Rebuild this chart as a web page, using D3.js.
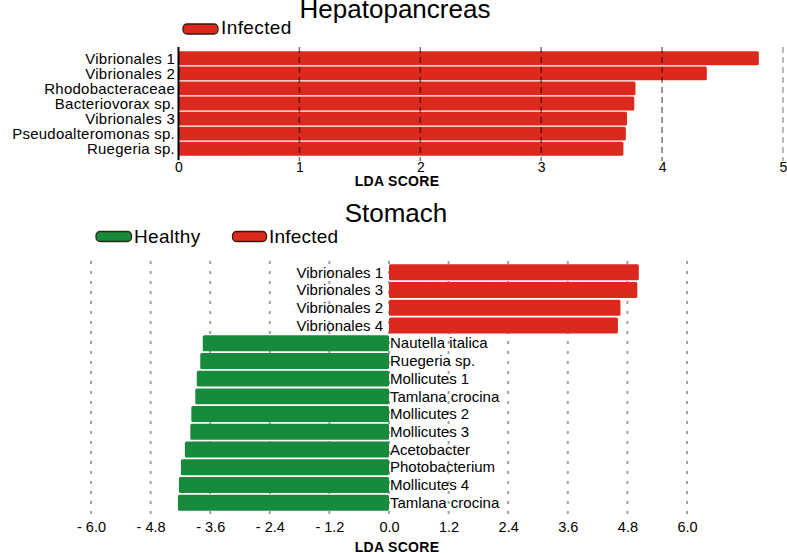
<!DOCTYPE html>
<html><head><meta charset="utf-8">
<script src="https://cdn.jsdelivr.net/npm/d3@7"></script>
<style>body{margin:0;background:#fff}svg{display:block}text{font-family:"Liberation Sans",Arial,Helvetica,sans-serif}</style>
</head><body>
<svg id="chart" width="787" height="553"></svg>
<script>
// ---- Data ----
const hepCategories = ["Vibrionales 1","Vibrionales 2","Rhodobacteraceae","Bacteriovorax sp.","Vibrionales 3","Pseudoalteromonas sp.","Ruegeria sp."];
const hepValues = [4.80, 4.37, 3.78, 3.77, 3.71, 3.70, 3.68];
const hepTicks = [0, 1, 2, 3, 4, 5];

const stoCategories = ["Vibrionales 1","Vibrionales 3","Vibrionales 2","Vibrionales 4","Nautella italica","Ruegeria sp.","Mollicutes 1","Tamlana crocina","Mollicutes 2","Mollicutes 3","Acetobacter","Photobacterium","Mollicutes 4","Tamlana crocina "];
const stoValues = [5.03, 5.00, 4.66, 4.61, -3.75, -3.80, -3.87, -3.90, -3.98, -4.00, -4.11, -4.19, -4.23, -4.25];
const stoTicks = [-6.0, -4.8, -3.6, -2.4, -1.2, 0.0, 1.2, 2.4, 3.6, 4.8, 6.0];
const stoTickLabels = ["- 6.0","- 4.8","- 3.6","- 2.4","- 1.2","0.0","1.2","2.4","3.6","4.8","6.0"];

const RED = "#dc291d", GREEN = "#188a3b";
const svg = d3.select("#chart");

// ---- Hepatopancreas ----
const hx = d3.scaleLinear().domain([0, 5]).range([178.5, 783]);
const hy = d3.scaleBand().domain(hepCategories).range([51, 156]).paddingInner(0.08).paddingOuter(0.02);

svg.append("text").attr("x", 395).attr("y", 18).attr("text-anchor", "middle")
  .style("font-size", "26px").text("Hepatopancreas");

svg.append("rect").attr("x", 183).attr("y", 24).attr("width", 35).attr("height", 10).attr("rx", 4)
  .attr("fill", RED).attr("stroke", "#3a1a10").attr("stroke-width", 1.3);
svg.append("text").attr("x", 221).attr("y", 34).style("font-size", "19px").style("letter-spacing", "0.4px").text("Infected");

const hg = svg.append("g");
hg.selectAll("rect.bar").data(hepValues).join("rect").attr("class", "bar")
  .attr("x", hx(0)).attr("y", (d, i) => hy(hepCategories[i]))
  .attr("width", d => hx(d) - hx(0)).attr("height", hy.bandwidth())
  .attr("rx", 1.5).attr("fill", RED);

// grid lines (on top, translucent)
hg.selectAll("line.grid").data(hepTicks.filter(t => t > 0)).join("line").attr("class", "grid")
  .attr("x1", d => hx(d)).attr("x2", d => hx(d)).attr("y1", 47).attr("y2", 161)
  .attr("stroke", "#000").attr("stroke-opacity", d => d === 5 ? 0.35 : 0.5)
  .attr("stroke-width", 1.6).attr("stroke-dasharray", "6,4");

hg.selectAll("text.lab").data(hepCategories).join("text").attr("class", "lab")
  .attr("x", 175).attr("y", d => hy(d) + hy.bandwidth() / 2 + 5.3)
  .attr("text-anchor", "end").style("font-size", "15px").style("letter-spacing", "0.25px").text(d => d);

hg.append("line").attr("x1", hx(0)).attr("x2", hx(0)).attr("y1", 47).attr("y2", 160)
  .attr("stroke", "#000").attr("stroke-width", 2);

const hAxis = d3.axisBottom(hx).tickValues(hepTicks).tickSize(0).tickPadding(0).tickFormat(d3.format("d"));
const hAx = svg.append("g").attr("transform", "translate(0,162)").call(hAxis);
hAx.select(".domain").remove();
hAx.selectAll("text").style("font-size", "14px").attr("fill", "#000").attr("dy", "0.72em");

svg.append("text").attr("x", 397).attr("y", 186).attr("text-anchor", "middle")
  .style("font-size", "14px").style("font-weight", "bold").style("letter-spacing", "0.3px").text("LDA SCORE");

// ---- Stomach ----
const sx = d3.scaleLinear().domain([-6, 6]).range([91, 687]);
const sy = d3.scaleBand().domain(stoCategories).range([264, 511]).paddingInner(0.1).paddingOuter(0.02);

svg.append("text").attr("x", 396).attr("y", 222).attr("text-anchor", "middle")
  .style("font-size", "26px").text("Stomach");

svg.append("rect").attr("x", 96).attr("y", 231.5).attr("width", 35.5).attr("height", 10).attr("rx", 4)
  .attr("fill", GREEN).attr("stroke", "#2a2a1a").attr("stroke-width", 1.3);
svg.append("text").attr("x", 134).attr("y", 242.5).style("font-size", "19px").style("letter-spacing", "0.3px").text("Healthy");
svg.append("rect").attr("x", 232.5).attr("y", 231.5).attr("width", 34).attr("height", 10).attr("rx", 4)
  .attr("fill", RED).attr("stroke", "#3a1a10").attr("stroke-width", 1.3);
svg.append("text").attr("x", 269).attr("y", 242.5).style("font-size", "19px").style("letter-spacing", "0.2px").text("Infected");

const sg = svg.append("g");
sg.selectAll("line.grid").data(stoTicks).join("line").attr("class", "grid")
  .attr("x1", d => sx(d)).attr("x2", d => sx(d)).attr("y1", 261).attr("y2", 519)
  .attr("stroke", "#a0a0a0").attr("stroke-width", 2).attr("stroke-dasharray", "3,7");

sg.selectAll("rect.bar").data(stoValues).join("rect").attr("class", "bar")
  .attr("x", d => sx(Math.min(0, d))).attr("y", (d, i) => sy(stoCategories[i]))
  .attr("width", d => Math.abs(sx(d) - sx(0))).attr("height", sy.bandwidth())
  .attr("rx", 1.5).attr("fill", d => d > 0 ? RED : GREEN);

sg.selectAll("text.lab").data(stoCategories).join("text").attr("class", "lab")
  .attr("x", (d, i) => stoValues[i] > 0 ? 383 : 390)
  .attr("y", d => sy(d) + sy.bandwidth() / 2 + 5.2)
  .attr("text-anchor", (d, i) => stoValues[i] > 0 ? "end" : "start")
  .style("font-size", "15px").text(d => d.trim());

const sAxis = d3.axisBottom(sx).tickValues(stoTicks).tickSize(0).tickPadding(0)
  .tickFormat((d, i) => stoTickLabels[i]);
const sAx = svg.append("g").attr("transform", "translate(0,521)").call(sAxis);
sAx.select(".domain").remove();
sAx.selectAll("text").style("font-size", "14.5px").attr("fill", "#000").attr("dy", "0.75em");

svg.append("text").attr("x", 397).attr("y", 552).attr("text-anchor", "middle")
  .style("font-size", "14px").style("font-weight", "bold").style("letter-spacing", "0.3px").text("LDA SCORE");
</script>
</body></html>
